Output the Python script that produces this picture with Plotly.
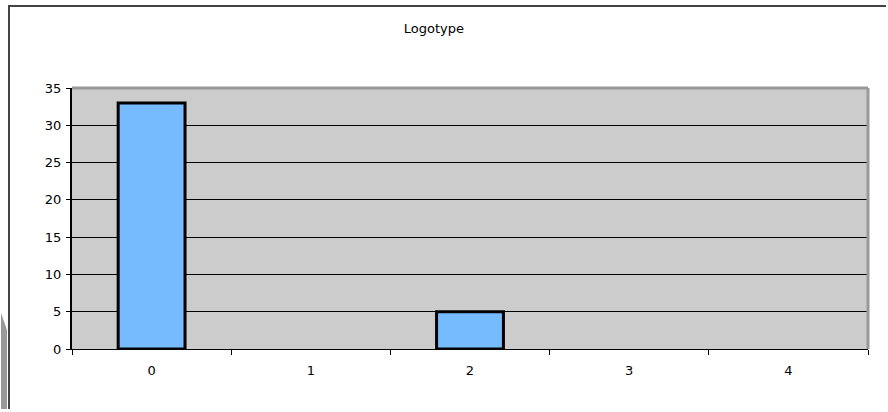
import plotly.graph_objects as go

# Logotype counts per category
categories = ["0", "1", "2", "3", "4"]
counts = [33, 0, 5, 0, 0]
y_ticks = [0, 5, 10, 15, 20, 25, 30, 35]

W, H = 888, 412
ML, MR, MT, MB = 72, 20, 88, 63
pw = W - ML - MR
ph = H - MT - MB


def px_x(x):
    return (x - ML) / pw


def px_y(y):
    return (H - MB - y) / ph


# empty categories get no outline so nothing is drawn on the baseline
outline_widths = [3 if v > 0 else 0 for v in counts]

fig = go.Figure()
fig.add_trace(go.Bar(
    x=categories,
    y=counts,
    width=0.42,
    marker=dict(color="#77BBFF", line=dict(color="#000000", width=outline_widths)),
    showlegend=False,
))

font = dict(family="DejaVu Sans, Verdana, sans-serif", size=13, color="#000000")

# frame lines stop just short of the page edge so the page never overflows
frame = dict(color="#444444", width=2)
shapes = [
    # outer chart frame (top and left edges)
    dict(type="line", xref="paper", yref="paper",
         x0=px_x(8), x1=px_x(886), y0=px_y(6), y1=px_y(6), line=frame, layer="above"),
    dict(type="line", xref="paper", yref="paper",
         x0=px_x(9), x1=px_x(9), y0=px_y(6), y1=px_y(409), line=frame, layer="above"),
    # shaded strip at lower left
    dict(type="path", xref="paper", yref="paper",
         path=f"M {px_x(1)},{px_y(313)} L {px_x(7)},{px_y(330)} L {px_x(7)},{px_y(409)} L {px_x(1)},{px_y(409)} Z",
         fillcolor="#999999", line=dict(width=0), layer="above"),
    # plot area top and right border
    dict(type="line", xref="paper", yref="paper",
         x0=0, x1=1, y0=1, y1=1, line=dict(color="#999999", width=3), layer="above"),
    dict(type="line", xref="paper", yref="paper",
         x0=1, x1=1, y0=0, y1=1, line=dict(color="#999999", width=3), layer="above"),
]

fig.update_layout(
    width=W, height=H,
    margin=dict(l=ML, r=MR, t=MT, b=MB),
    paper_bgcolor="#FFFFFF",
    plot_bgcolor="#CCCCCC",
    font=font,
    title=dict(text="Logotype", x=px_x(461), xanchor="center",
               y=1 - 28 / H, yanchor="middle", font=font),
    shapes=shapes,
    xaxis=dict(
        type="category",
        tickson="boundaries",
        ticks="outside", ticklen=5, tickcolor="#000000", tickwidth=1,
        showline=True, linecolor="#000000", linewidth=1,
        showgrid=False, zeroline=False,
        tickfont=font,
        range=[-0.5, 4.5],
        ticklabelstandoff=9,
    ),
    yaxis=dict(
        range=[0, 35],
        tickvals=y_ticks,
        ticks="outside", ticklen=4, tickcolor="#000000", tickwidth=1,
        showline=True, linecolor="#000000", linewidth=2,
        showgrid=True, gridcolor="#000000", gridwidth=1,
        zeroline=False,
        tickfont=font,
        ticklabelstandoff=2,
    ),
)

fig.write_html("out.html")
